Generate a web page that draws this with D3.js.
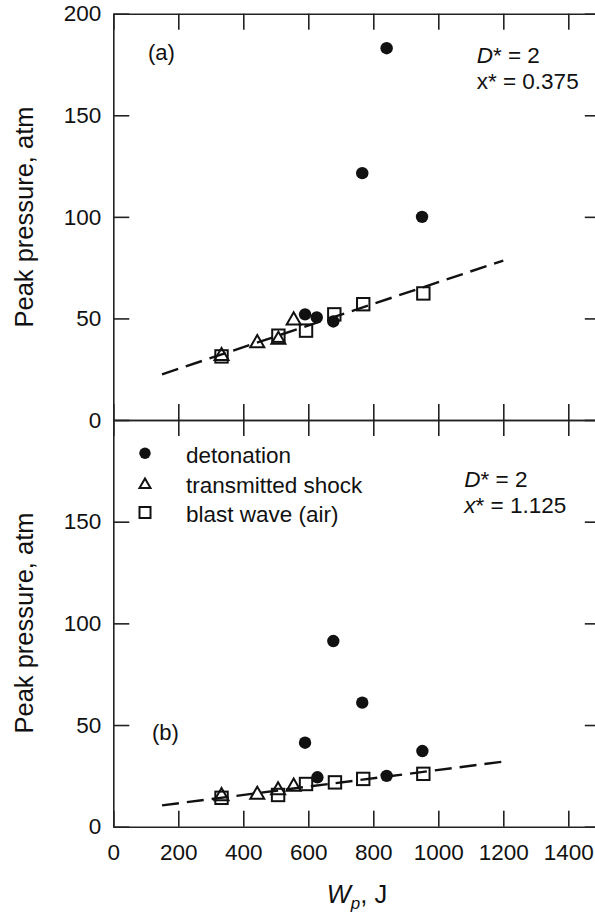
<!DOCTYPE html>
<html>
<head>
<meta charset="utf-8">
<script src="https://cdn.jsdelivr.net/npm/d3@7"></script>
<style>
  body { margin: 0; background: #fff; }
  text { font-family: "Liberation Sans", Arial, sans-serif; fill: #111; }
</style>
</head>
<body>
<svg id="chart" width="595" height="923"></svg>
<script>
// W_p (J) vs peak pressure (atm), two stations x*
const xTicks = [0, 200, 400, 600, 800, 1000, 1200, 1400];
const yTicksA = [0, 50, 100, 150, 200];
const yTicksB = [0, 50, 100, 150];

// panel (a): x* = 0.375
const detonationA = [[590, 52], [626, 50.5], [677, 48.5], [766, 121.5], [841, 183], [950, 100]];
const shockA = [[333, 32.5], [443, 38.8], [508, 40.5], [555, 50]];
const blastA = [[333, 31.3], [508, 41.5], [593, 44], [680, 52], [769, 57], [954, 62.3]];
const fitA = [[150, 22.5], [1200, 78.5]];

// panel (b): x* = 1.125
const detonationB = [[590, 41.3], [628, 24.3], [677, 91.3], [766, 61], [841, 25], [951, 37.2]];
const shockB = [[333, 16], [443, 16.7], [507, 18.9], [555, 20.7]];
const blastB = [[333, 14.2], [507, 15.6], [593, 21], [682, 21.8], [769, 23.5], [954, 26]];
const fitB = [[150, 10.5], [1200, 32]];

const legendLabels = ["detonation", "transmitted shock", "blast wave (air)"];

const svg = d3.select("#chart");
const x = d3.scaleLinear().domain([0, 1500]).range([113.3, 600.8]);
const tick = 16;
const ink = "#111";

function panel(opts) {
  const y = d3.scaleLinear().domain([0, 200]).range([opts.bottom, opts.top]);
  const g = svg.append("g");

  const styleAxis = sel => {
    sel.selectAll("path, line").attr("stroke", "#222").attr("stroke-width", 1.6);
    sel.selectAll("text").attr("font-size", "22.5px").attr("fill", ink)
      .attr("font-family", '"Liberation Sans", Arial, sans-serif');
  };

  g.append("g").attr("transform", `translate(${x(0)},0)`)
    .call(d3.axisLeft(y).tickValues(opts.yTicks).tickSize(-tick).tickSizeOuter(0)
      .tickPadding(12).tickFormat(d3.format("d")))
    .call(styleAxis);
  g.append("g").attr("transform", `translate(${x(1500)},0)`)
    .call(d3.axisRight(y).tickValues(opts.yTicks).tickSize(-tick).tickSizeOuter(0).tickFormat(""))
    .call(styleAxis);
  g.append("g").attr("transform", `translate(0,${opts.top})`)
    .call(d3.axisTop(x).tickValues(xTicks).tickSize(-tick).tickSizeOuter(0).tickFormat(""))
    .call(styleAxis);
  const bx = d3.axisBottom(x).tickValues(xTicks).tickSize(-tick).tickSizeOuter(0)
    .tickPadding(17).tickFormat(opts.xLabels ? d3.format("d") : "");
  g.append("g").attr("transform", `translate(0,${opts.bottom})`)
    .call(bx).call(styleAxis);
  g.selectAll(".domain").attr("fill", "none");

  // dashed fit
  g.append("path")
    .datum(opts.fit)
    .attr("d", d3.line().x(d => x(d[0])).y(d => y(d[1])))
    .attr("fill", "none")
    .attr("stroke", ink)
    .attr("stroke-width", 2.4)
    .attr("stroke-dasharray", "17,8");

  // open squares
  g.selectAll(".sq").data(opts.blast).enter().append("rect")
    .attr("x", d => x(d[0]) - 6.2)
    .attr("y", d => y(d[1]) - 6.2)
    .attr("width", 12.4).attr("height", 12.4)
    .attr("fill", "none").attr("stroke", ink).attr("stroke-width", 2);

  // open triangles
  g.selectAll(".tri").data(opts.shock).enter().append("path")
    .attr("d", d => triangle(x(d[0]), y(d[1]), 14))
    .attr("fill", "none").attr("stroke", ink).attr("stroke-width", 2);

  // filled circles
  g.selectAll(".dot").data(opts.detonation).enter().append("circle")
    .attr("cx", d => x(d[0]))
    .attr("cy", d => y(d[1]))
    .attr("r", 6.2)
    .attr("fill", ink);

  return { g, y };
}

function triangle(cx, cy, s) {
  const h = s * 0.87;
  return `M${cx - s / 2},${cy + h / 2}L${cx + s / 2},${cy + h / 2}L${cx},${cy - h / 2}Z`;
}

panel({ top: 13.7, bottom: 420, yTicks: yTicksA, xLabels: false,
  detonation: detonationA, shock: shockA, blast: blastA, fit: fitA });
panel({ top: 420, bottom: 826.7, yTicks: yTicksB, xLabels: true,
  detonation: detonationB, shock: shockB, blast: blastB, fit: fitB });

// y titles
[217, 623].forEach(cy => {
  svg.append("text")
    .attr("transform", `translate(33,${cy}) rotate(-90)`)
    .attr("text-anchor", "middle")
    .attr("font-size", "25.5px")
    .text("Peak pressure, atm");
});

// x title
const xt = svg.append("text")
  .attr("x", 357).attr("y", 903)
  .attr("text-anchor", "middle")
  .attr("font-size", "25.5px");
xt.append("tspan").attr("font-style", "italic").text("W");
xt.append("tspan").attr("font-style", "italic").attr("font-size", "17px").attr("dy", 6).text("p");
xt.append("tspan").attr("dy", -6).text(", J");

// panel annotations
svg.append("text").attr("x", 148).attr("y", 60).attr("font-size", "22px").text("(a)");
svg.append("text").attr("x", 152).attr("y", 740).attr("font-size", "22px").text("(b)");

function params(px, py, xVal, italicX) {
  const t1 = svg.append("text").attr("x", px).attr("y", py).attr("font-size", "22.5px");
  t1.append("tspan").attr("font-style", "italic").text("D");
  t1.append("tspan").text("* = 2");
  const t2 = svg.append("text").attr("x", px).attr("y", py + 25.5).attr("font-size", "22.5px");
  t2.append("tspan").attr("font-style", italicX ? "italic" : "normal").text("x");
  t2.append("tspan").text("* = " + xVal);
}
params(476.7, 63, "0.375", false);
params(464.3, 487, "1.125", true);

// legend
const legendY = [453.3, 483.3, 512.5];
const lg = svg.append("g");
lg.append("circle").attr("cx", 145).attr("cy", legendY[0]).attr("r", 5.7).attr("fill", ink);
lg.append("path").attr("d", triangle(145, legendY[1], 11))
  .attr("fill", "none").attr("stroke", ink).attr("stroke-width", 2);
lg.append("rect").attr("x", 145 - 5.5).attr("y", legendY[2] - 5.5)
  .attr("width", 11).attr("height", 11)
  .attr("fill", "none").attr("stroke", ink).attr("stroke-width", 2);
legendLabels.forEach((lab, i) => {
  lg.append("text").attr("x", 186).attr("y", legendY[i] + 9.4)
    .attr("font-size", "22.5px").text(lab);
});
</script>
</body>
</html>
